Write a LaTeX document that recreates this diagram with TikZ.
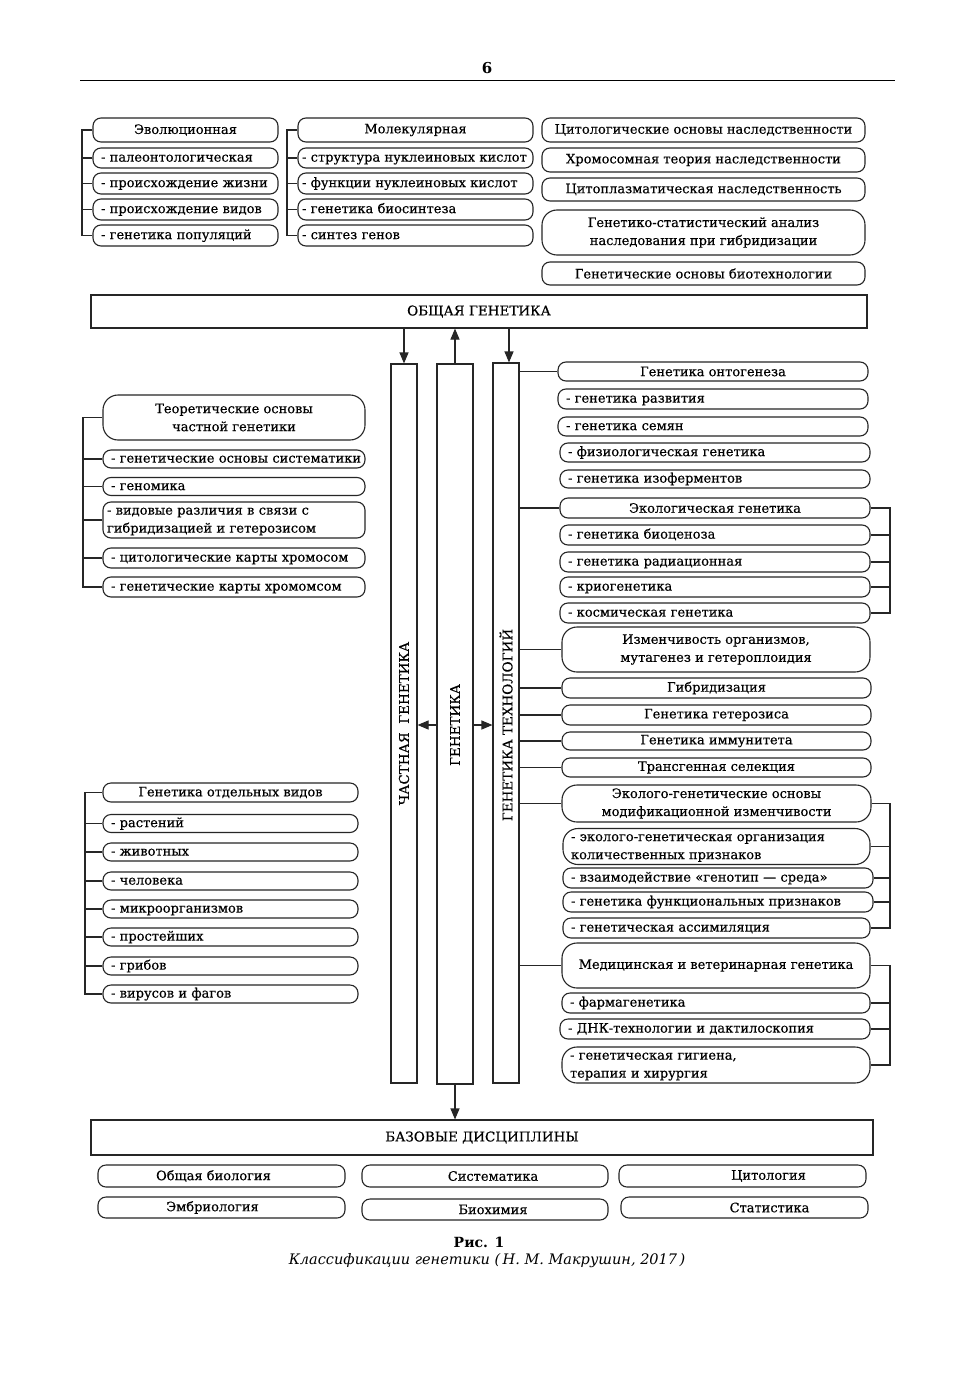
\documentclass[tikz,border=0pt]{standalone}
\usepackage{fontspec}
\setmainfont{DejaVu Serif}
\newfontfamily\bxfont{DejaVu Serif}[FakeBold=0.35]
\usetikzlibrary{arrows.meta}
\newcommand\rbl[7][]{%
  \pgfmathsetmacro\rbcx{(#3+#5)/2}\pgfmathsetmacro\rbcy{(#4+#6)/2}%
  \pgfmathsetmacro\rbw{#5-#3}\pgfmathsetmacro\rbh{#6-#4}\pgfmathsetmacro\rbt{#5-#3-16}%
  \node[rbox,minimum width=\rbw pt,minimum height=\rbh pt,text width=\rbt pt,align=left,#1] (#2) at (\rbcx,\rbcy) {\begin{tabular}{@{}l@{}}#7\end{tabular}};}
\newcommand\rbc[7][]{%
  \pgfmathsetmacro\rbcx{(#3+#5)/2}\pgfmathsetmacro\rbcy{(#4+#6)/2}%
  \pgfmathsetmacro\rbw{#5-#3}\pgfmathsetmacro\rbh{#6-#4}%
  \node[rbox,minimum width=\rbw pt,minimum height=\rbh pt,align=center,#1] (#2) at (\rbcx,\rbcy) {#7};}
\tikzset{
  rbox/.style={draw=black!85, line width=1.1pt, rounded corners=8pt, inner xsep=8pt, inner ysep=0pt,
    font=\bxfont\fontsize{13}{18}\selectfont},
  big/.style={rounded corners=15pt},
  rect/.style={sharp corners},
  ln/.style={draw=black!85, line width=1.1pt},
  arr/.style={ln, -{Triangle[length=11pt,width=9pt]}},
  col/.style={draw=black!85, line width=1.1pt, inner sep=0pt},
  vtext/.style={rotate=90, font=\bxfont\fontsize{13.5}{14}\selectfont},
}
\begin{document}
\begin{tikzpicture}[x=1pt,y=-1pt]
\useasboundingbox[fill=white] (0,0) rectangle (976,1388);
% header
\node[font=\bfseries\fontsize{15}{15}\selectfont] (pgnum) at (487,68) {6};
\coordinate (hl) at (80,80); \coordinate (hr) at (895,80);
\draw[line width=0.9pt] (hl) -- (hr);

% Evolutionary group
\rbc{e0}{93}{118}{278}{142}{Эволюционная}
\rbl{e1}{93}{148}{278}{168}{- палеонтологическая}
\rbl{e2}{93}{173}{278}{194}{- происхождение жизни}
\rbl{e3}{93}{199}{278}{220}{- происхождение видов}
\rbl{e4}{93}{225}{278}{246}{- генетика популяций}
\coordinate (bE) at (82,0);
\draw[ln] (e0.west) -| (bE |- e4.west) -- (e4.west);
\foreach \n in {e1,e2,e3} \draw[ln] (\n.west) -- (\n.west -| bE);

% Molecular group
\rbc{m0}{298}{118}{533}{142}{Молекулярная}
\rbl[inner xsep=4pt,text width=227pt]{m1}{298}{148}{533}{168}{- структура нуклеиновых кислот}
\rbl[inner xsep=4pt,text width=227pt]{m2}{298}{173}{533}{194}{- функции нуклеиновых кислот}
\rbl[inner xsep=4pt,text width=227pt]{m3}{298}{199}{533}{220}{- генетика биосинтеза}
\rbl[inner xsep=4pt,text width=227pt]{m4}{298}{225}{533}{246}{- синтез генов}
\coordinate (bM) at (287,0);
\draw[ln] (m0.west) -| (bM |- m4.west) -- (m4.west);
\foreach \n in {m1,m2,m3} \draw[ln] (\n.west) -- (\n.west -| bM);

% top right
\rbc{t0}{542}{118}{865}{142}{Цитологические основы наследственности}
\rbc{t1}{542}{148}{865}{172}{Хромосомная теория наследственности}
\rbc{t2}{542}{178}{865}{201}{Цитоплазматическая наследственность}
\rbc[big]{t3}{542}{210}{865}{255}{Генетико-статистический анализ\\наследования при гибридизации}
\rbc{t4}{542}{262}{865}{285}{Генетические основы биотехнологии}

% general genetics
\rbc[rect,font=\bxfont\fontsize{13.5}{14}\selectfont]{og}{91}{295}{867}{328}{ОБЩАЯ ГЕНЕТИКА}

% columns
\node[col,minimum width=26pt,minimum height=719pt] (c1) at (404,723.5) {};
\node[col,minimum width=36pt,minimum height=720pt] (c2) at (455,724) {};
\node[col,minimum width=26pt,minimum height=720pt] (c3) at (506,723) {};
\node[vtext] (c1t) at (404,723.5) {ЧАСТНАЯ\ \ ГЕНЕТИКА};
\node[vtext] (c2t) at (455,725) {ГЕНЕТИКА};
\node[vtext] (c3t) at (506,725) {ГЕНЕТИКА ТЕХНОЛОГИЙ};

\coordinate (a3) at (509,0);
\draw[arr] (og.south -| c1.north) -- (c1.north);
\draw[arr] (c2.north) -- (og.south -| c2.north);
\draw[arr] (og.south -| a3) -- (c3.north -| a3);
\coordinate (mid) at (0,725);
\draw[arr] (c2.west |- mid) -- (c1.east |- mid);
\draw[arr] (c2.east |- mid) -- (c3.west |- mid);

% theoretical group
\rbc[big]{p0}{103}{395}{365}{440}{Теоретические основы\\частной генетики}
\rbl{p1}{103}{450}{365}{468}{- генетические основы систематики}
\rbl{p2}{103}{478}{365}{495}{- геномика}
\rbl[inner xsep=4pt,text width=254pt]{p3}{103}{503}{365}{537}{- видовые различия в связи с\\гибридизацией и гетерозисом}
\rbl{p4}{103}{548}{365}{568}{- цитологические карты хромосом}
\rbl{p5}{103}{577}{365}{597}{- генетические карты хромомсом}
\coordinate (bP) at (83,0);
\draw[ln] (p0.west) -| (bP |- p5.west) -- (p5.west);
\foreach \n in {p1,p2,p3,p4} \draw[ln] (\n.west) -- (\n.west -| bP);

% species group
\rbc{s0}{103}{783}{358}{802}{Генетика отдельных видов}
\rbl{s1}{103}{815}{358}{832}{- растений}
\rbl{s2}{103}{843}{358}{861}{- животных}
\rbl{s3}{103}{872}{358}{890}{- человека}
\rbl{s4}{103}{900}{358}{918}{- микроорганизмов}
\rbl{s5}{103}{928}{358}{946}{- простейших}
\rbl{s6}{103}{957}{358}{975}{- грибов}
\rbl{s7}{103}{985}{358}{1003}{- вирусов и фагов}
\coordinate (bS) at (85,0);
\draw[ln] (s0.west) -| (bS |- s7.west) -- (s7.west);
\foreach \n in {s1,s2,s3,s4,s5,s6} \draw[ln] (\n.west) -- (\n.west -| bS);

% ontogenesis
\rbc{o0}{558}{362}{868}{381}{Генетика онтогенеза}
\rbl{o1}{558}{389}{868}{409}{- генетика развития}
\rbl{o2}{558}{417}{868}{436}{- генетика семян}
\rbl{o3}{560}{443}{870}{462}{- физиологическая генетика}
\rbl{o4}{560}{470}{870}{488}{- генетика изоферментов}

% ecological
\rbc{k0}{560}{498}{870}{518}{Экологическая генетика}
\rbl{k1}{560}{525}{870}{545}{- генетика биоценоза}
\rbl{k2}{560}{552}{870}{572}{- генетика радиационная}
\rbl{k3}{560}{577}{870}{597}{- криогенетика}
\rbl{k4}{560}{603}{870}{623}{- космическая генетика}

\rbc[big]{i0}{562}{627}{870}{672}{Изменчивость организмов,\\мутагенез и гетероплоидия}
\rbc{g0}{562}{678}{871}{698}{Гибридизация}
\rbc{g1}{562}{705}{871}{725}{Генетика гетерозиса}
\rbc{g2}{562}{732}{871}{750}{Генетика иммунитета}
\rbc{g3}{562}{758}{871}{777}{Трансгенная селекция}

\rbc[big]{q0}{562}{785}{871}{822}{Эколого-генетические основы\\модификационной изменчивости}
\rbl[big]{q1}{563}{830}{870}{863}{- эколого-генетическая организация\\количественных признаков}
\rbl{q2}{563}{868}{873}{888}{- взаимодействие «генотип — среда»}
\rbl{q3}{563}{892}{873}{912}{- генетика функциональных признаков}
\rbl{q4}{563}{918}{870}{938}{- генетическая ассимиляция}

\rbc[big]{d0}{562}{943}{870}{988}{Медицинская и ветеринарная генетика}
\rbl{d1}{562}{993}{870}{1013}{- фармагенетика}
\rbl{d2}{560}{1019}{870}{1039}{- ДНК-технологии и дактилоскопия}
\rbl[big]{d3}{562}{1047}{870}{1083}{- генетическая гигиена,\\терапия и хирургия}

\foreach \n in {o0,k0,i0,g0,g1,g2,g3,q0,d0} \draw[ln] (c3.east |- \n.west) -- (\n.west);
\coordinate (bR) at (890,0);
\draw[ln] (k0.east) -| (bR |- k4.east) -- (k4.east);
\foreach \n in {k1,k2,k3} \draw[ln] (\n.east) -- (\n.east -| bR);
\draw[ln] (q0.east) -| (bR |- q4.east) -- (q4.east);
\foreach \n in {q1,q2,q3} \draw[ln] (\n.east) -- (\n.east -| bR);
\draw[ln] (d0.east) -| (bR |- d3.east) -- (d3.east);
\foreach \n in {d1,d2} \draw[ln] (\n.east) -- (\n.east -| bR);

% base disciplines
\rbc[rect,font=\bxfont\fontsize{13.5}{14}\selectfont]{bd}{91}{1120}{873}{1155}{БАЗОВЫЕ ДИСЦИПЛИНЫ}
\draw[arr] (c2.south) -- (c2.south |- bd.north);
\rbc{r1}{98}{1165}{345}{1187}{Общая биология\hspace*{16pt}}
\rbc{r2}{362}{1165}{608}{1187}{\hspace*{16pt}Систематика}
\rbc{r3}{619}{1165}{866}{1187}{\hspace*{52pt}Цитология}
\rbc{r4}{98}{1197}{345}{1218}{Эмбриология\hspace*{18pt}}
\rbc{r5}{362}{1199}{608}{1220}{\hspace*{16pt}Биохимия}
\rbc{r6}{621}{1197}{868}{1218}{\hspace*{50pt}Статистика}

% caption
\node[font=\bfseries\fontsize{14}{14}\selectfont] (cap1) at (479,1242) {Рис. 1};
\node[font=\itshape\fontsize{14.5}{15}\selectfont] (cap2) at (487,1261) {Классификации генетики (\,Н. М. Макрушин, 2017\,)};
\end{tikzpicture}
\end{document}
